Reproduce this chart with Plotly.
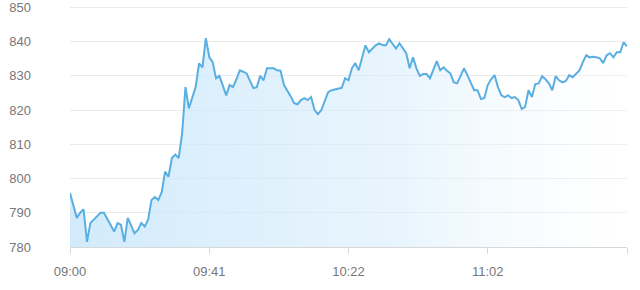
import plotly.graph_objects as go

# minute offsets from 09:00 and price values
minutes = [0, 1, 2, 3, 4, 5, 6, 7, 9, 10, 11, 13, 14, 15, 16, 17, 19, 20, 21, 22,
           23, 24, 25, 26, 27, 28, 29, 30, 31, 32, 33, 34, 35, 36, 37, 38, 39, 40,
           41, 42, 43, 44, 45, 46, 47, 48, 49, 50, 51, 52, 53, 54, 55, 56, 57, 58,
           59, 60, 61, 62, 63, 64, 65, 66, 67, 68, 69, 70, 71, 72, 73, 74, 75, 76,
           77, 78, 79, 80, 81, 82, 83, 84, 85, 86, 87, 88, 89, 90, 91, 92, 93, 94,
           95, 96, 97, 98, 99, 100, 101, 102, 103, 104, 105, 106, 107, 108, 109, 110,
           111, 112, 113, 114, 115, 116, 117, 118, 119, 120, 121, 122, 123, 124, 125,
           126, 127, 128, 129, 130, 131, 132, 133, 134, 135, 136, 137, 138, 139, 140,
           141, 142, 143, 144, 145, 146, 147, 148, 149, 150, 151, 152, 153, 154, 155,
           156, 157, 158, 159, 160, 161, 162, 163, 164]
prices = [795.8, 791.8, 788.5, 790.0, 791.0, 781.5, 787.0, 788.0, 790.0, 790.0,
          788.0, 784.5, 787.0, 786.5, 781.5, 788.5, 784.0, 785.0, 787.0, 786.0,
          788.0, 793.7, 794.6, 793.7, 796.0, 802.0, 800.5, 806.0, 807.0, 806.0,
          813.0, 826.7, 820.5, 823.8, 826.7, 833.6, 832.5, 841.0, 835.5, 834.0,
          829.3, 830.0, 827.0, 824.3, 827.3, 826.7, 829.0, 831.6, 831.2, 830.7,
          828.5, 826.4, 826.7, 830.0, 828.7, 832.2, 832.2, 832.2, 831.6, 831.5,
          827.3, 825.8, 824.0, 822.0, 821.7, 822.9, 823.5, 822.9, 823.8, 820.0,
          818.8, 820.0, 822.5, 825.2, 825.8, 826.0, 826.4, 826.5, 829.3, 828.7,
          832.2, 833.7, 831.6, 835.0, 838.9, 836.9, 838.0, 838.9, 839.5, 839.0,
          838.9, 840.7, 839.3, 838.0, 839.5, 838.0, 836.6, 832.2, 835.4, 832.2,
          830.0, 830.5, 830.5, 829.3, 831.6, 834.3, 831.6, 832.5, 831.5, 830.7,
          828.1, 827.8, 830.0, 832.2, 830.2, 828.0, 825.8, 825.8, 823.2, 823.5,
          827.3, 829.0, 830.2, 826.7, 824.3, 823.8, 824.3, 823.5, 823.8, 822.9,
          820.3, 820.9, 825.8, 823.8, 827.6, 827.8, 829.9, 829.0, 827.8, 825.8,
          829.9, 828.7, 828.1, 828.5, 830.2, 829.6, 830.5, 831.6, 834.0, 836.0,
          835.4, 835.6, 835.4, 835.1, 833.7, 836.0, 836.6, 835.4, 836.9, 836.9,
          839.8, 838.6]

tick_positions = [0, 41, 82, 123, 164]
tick_labels = ["09:00", "09:41", "10:22", "11:02", ""]
y_ticks = [780, 790, 800, 810, 820, 830, 840, 850]

fig = go.Figure()
fig.add_trace(go.Scatter(
    x=minutes, y=prices, mode="lines",
    line=dict(color="#5aafe2", width=2),
    fill="tozeroy",
    fillgradient=dict(type="horizontal",
                      colorscale=[[0, "rgba(195,228,250,0.75)"],
                                  [0.6, "rgba(218,238,252,0.6)"],
                                  [1, "rgba(255,255,255,0.2)"]]),
    hoverinfo="skip",
))

fig.update_layout(
    width=640, height=290,
    margin=dict(l=70, r=13, t=6, b=43),
    paper_bgcolor="white", plot_bgcolor="white",
    showlegend=False,
    font=dict(family="Liberation Sans, Arial, sans-serif", size=13, color="#777777"),
)
fig.update_xaxes(
    range=[0, 164], tickmode="array", tickvals=tick_positions, ticktext=tick_labels,
    showgrid=False, zeroline=False,
    showline=True, linecolor="#d8d8d8", linewidth=1,
    ticks="outside", ticklen=6, tickcolor="#d8d8d8",
    ticklabelstandoff=6, automargin=False,
)
fig.update_yaxes(
    range=[779.99, 850.4], tickmode="array", tickvals=y_ticks,
    showgrid=True, gridcolor="#ebebeb", gridwidth=1, zeroline=False,
    showline=False, ticks="", ticklabelstandoff=38,
    ticklabeloverflow="allow", automargin=False,
)

fig.write_html("out.html")
